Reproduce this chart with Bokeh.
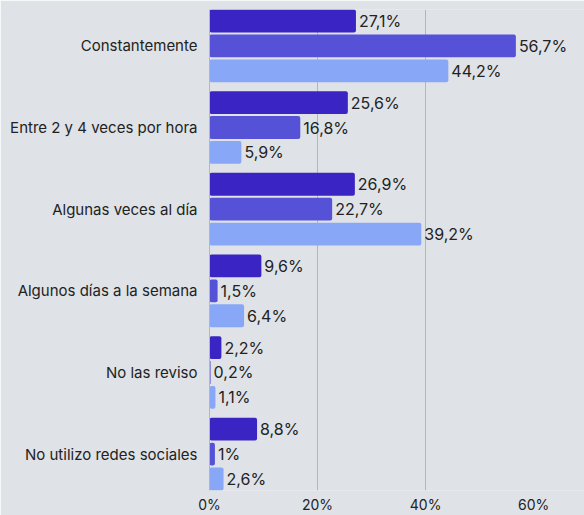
from bokeh.plotting import figure
from bokeh.models import Range1d, FixedTicker, ColumnDataSource, CustomJSTickFormatter
from bokeh.core.properties import value
from bokeh.embed import file_html
from bokeh.resources import INLINE

categories = ["Constantemente", "Entre 2 y 4 veces por hora", "Algunas veces al día",
              "Algunos días a la semana", "No las reviso", "No utilizo redes sociales"]
series_a = [27.1, 25.6, 26.9, 9.6, 2.2, 8.8]
series_b = [56.7, 16.8, 22.7, 1.5, 0.2, 1.0]
series_c = [44.2, 5.9, 39.2, 6.4, 1.1, 2.6]
x_ticks = [0, 20, 40, 60]

colors = ["#3a24c4", "#5552d7", "#88a8f7"]
offsets = [-0.305, 0.0, 0.305]
bar_h = 0.28

FONT = "Inter"
BG = "#dfe2e7"

p = figure(width=584, height=515, output_backend="svg", toolbar_location=None,
           x_range=Range1d(0, 69.4), y_range=Range1d(5.446, -0.446),
           min_border_left=209, min_border_right=0, min_border_top=9, min_border_bottom=0)
p.background_fill_color = BG
p.border_fill_color = BG
p.outline_line_color = None

for vals, col, off in zip([series_a, series_b, series_c], colors, offsets):
    ys = [i + off for i in range(len(categories))]
    labels = [f"{v:g}".replace(".", ",") + "%" for v in vals]
    src = ColumnDataSource(dict(y=ys, x=vals, label=labels))
    p.hbar(y="y", left=0, right="x", height=bar_h, source=src, fill_color=col,
           line_color=None, border_radius=2)
    p.text(x="x", y="y", text="label", source=src, x_offset=3, text_baseline="middle",
           text_align="left", text_font=value(FONT), text_font_size="16px", text_color="#222222")

# axes
p.xaxis.ticker = FixedTicker(ticks=x_ticks)
p.xaxis.formatter = CustomJSTickFormatter(code="return tick + '%';")
p.xaxis.axis_line_color = None
p.xaxis.major_tick_line_color = None
p.xaxis.minor_tick_line_color = None
p.xaxis.major_tick_out = 0
p.xaxis.major_tick_in = 0
p.xaxis.major_label_standoff = 5
p.xaxis.major_label_text_font = FONT
p.xaxis.major_label_text_font_size = "14px"
p.xaxis.major_label_text_color = "#222222"

p.yaxis.ticker = FixedTicker(ticks=list(range(len(categories))))
p.yaxis.major_label_overrides = {i: c for i, c in enumerate(categories)}
p.yaxis.axis_line_color = "#b3b6bb"
p.yaxis.major_tick_line_color = None
p.yaxis.minor_tick_line_color = None
p.yaxis.major_tick_out = 0
p.yaxis.major_tick_in = 0
p.yaxis.major_label_standoff = 12
p.yaxis.major_label_text_font = FONT
p.yaxis.major_label_text_font_size = "15px"
p.yaxis.major_label_text_color = "#222222"

p.xgrid.ticker = FixedTicker(ticks=[20, 40])
p.xgrid.grid_line_color = "#b3b6bb"
p.ygrid.grid_line_color = None

open("out.html", "w").write(file_html(p, INLINE))
